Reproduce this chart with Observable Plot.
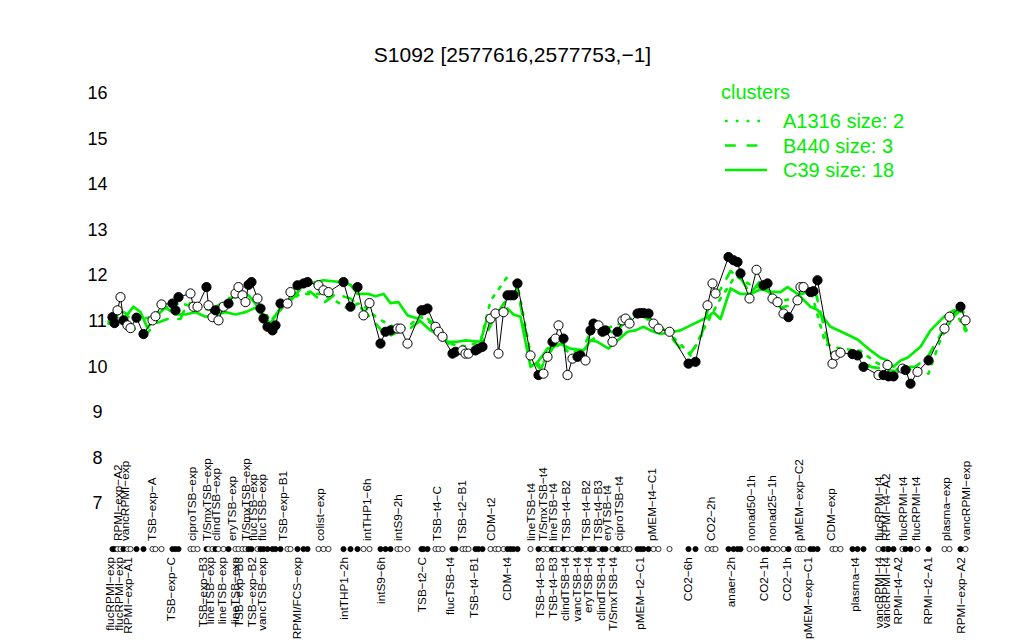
<!DOCTYPE html>
<html><head><meta charset="utf-8">
<script src="https://cdn.jsdelivr.net/npm/d3@7"></script>
<script src="https://cdn.jsdelivr.net/npm/@observablehq/plot@0.6"></script>
<style>
body{margin:0;background:#fff;font-family:"Liberation Sans",Arial,sans-serif;}
#wrap{position:relative;width:1024px;height:640px;}
#legend{position:absolute;left:0;top:0;pointer-events:none;}
</style></head><body><div id="wrap"></div>
<script>
const title = "S1092 [2577616,2577753,\u22121]";
const yTicks = [7,8,9,10,11,12,13,14,15,16];
const stripLevel = 6;

// sample order position, expression value, filled marker flag
const samplePos = [12,14,17,20,23,27,30,36,43,52,55,61,72,75,78,90,93,97,106,108,112,115,118,123,128,135,138,142,145,148,151,157,160,163,167,172,175,180,187,190,197,203,207,218,223,228,243,250,257,263,269,280,285,290,297,300,307,321,323,327,335,338,342,352,355,362,365,368,375,378,382,390,395,398,403,407,410,413,417,430,438,443,447,452,455,458,463,467,472,477,480,485,490,493,498,502,505,512,517,522,525,529,537,540,543,548,553,558,569,588,595,607,612,615,628,633,637,640,649,656,663,667,672,677,683,688,697,700,703,710,713,717,732,735,740,752,757,763,778,783,787,788,793,802,805,810,817,828,844,849,860,865];
const sampleValue = [11.09,10.96,11.24,11.53,11.02,10.91,10.85,11.08,10.72,11.02,11.11,11.37,11.39,11.24,11.53,11.61,11.32,11.32,11.75,11.35,11.09,11.24,11.02,11.32,11.39,11.61,11.75,11.57,11.42,11.80,11.86,11.5,11.28,11.06,10.88,10.8,10.91,11.39,11.39,11.64,11.79,11.83,11.86,11.79,11.68,11.64,11.86,11.32,11.75,11.13,11.40,10.51,10.77,10.8,10.84,10.84,10.51,11.24,11.24,11.28,10.88,10.77,10.66,10.29,10.33,10.36,10.29,10.29,10.36,10.40,10.44,11.06,11.17,10.29,11.2,11.57,11.57,11.57,11.83,10.25,9.82,9.85,10.22,10.55,10.62,10.91,10.62,9.82,10.18,10.22,10.25,10.14,10.8,10.95,10.91,10.77,10.8,10.55,10.77,11.02,11.06,10.95,11.17,11.18,11.18,11.17,10.95,10.84,10.77,10.07,10.11,11.35,11.83,11.61,12.41,12.34,12.30,12.05,11.5,12.13,11.79,11.83,11.5,11.42,11.17,11.09,11.46,11.75,11.75,11.64,11.66,11.9,10.07,10.25,10.31,10.28,10.25,10.0,9.82,9.82,10.04,9.79,9.79,9.96,9.93,9.63,9.89,10.14,10.84,11.1,11.32,11.02];
const sampleFilled = [1,1,0,0,1,0,0,1,1,0,0,0,1,1,1,0,0,0,1,0,0,1,0,0,1,0,0,0,0,1,1,0,1,1,1,1,1,1,0,0,1,1,1,0,0,0,1,1,1,0,0,1,1,1,0,0,0,1,1,1,0,0,0,1,1,0,0,0,1,1,1,0,0,0,0,1,1,1,1,0,1,0,0,1,0,0,1,0,0,1,1,0,1,1,0,1,1,0,1,0,0,0,1,1,1,1,0,0,0,1,1,0,0,0,1,1,1,1,0,0,1,1,0,0,0,1,0,0,0,1,1,1,0,0,0,1,1,1,0,1,0,1,1,0,1,1,0,1,0,0,1,0];

// cluster profiles (position, value)
const clusterAPos = [8,20,35,50,65,80,95,110,125,140,155,170,185,200,220,235,245,260,275,290,305,320,335,350,365,380,390,406,417,430,440,455,470,485,500,520,540,560,580,590,605,620,635,650,665,680,695,710,725,740,760,775,790,805,820,828,840,855,866];
const clusterAValue = [11.0,11.2,11.0,11.1,11.3,11.4,11.3,11.25,11.4,11.6,11.55,11.0,11.4,11.6,11.6,11.45,11.3,11.4,11.1,10.9,10.85,11.1,10.9,10.5,10.45,10.55,11.45,11.95,11.8,10.3,10.0,10.5,10.3,10.4,10.8,10.95,11.15,10.9,10.5,10.25,10.9,11.5,12.0,11.8,11.7,11.45,11.5,11.7,10.5,10.4,10.35,10.1,9.95,9.95,9.95,9.85,10.6,11.2,10.75];
const clusterBPos = [8,18,28,43,55,67,80,87,100,115,127,147,158,168,180,195,210,223,235,250,265,273,287,300,310,325,335,345,355,370,380,392,405,417,430,440,450,460,470,480,490,505,515,525,540,550,565,580,590,600,610,620,630,640,650,660,670,680,690,700,715,730,745,760,770,785,795,805,815,828,840,850,858,866];
const clusterBValue = [10.95,11.1,10.95,10.65,10.95,11.05,11.05,11.4,11.35,11.3,11.5,11.6,11.3,10.95,11.25,11.6,11.65,11.4,11.6,11.5,11.2,11.0,10.65,10.8,10.85,11.1,10.9,10.6,10.35,10.35,10.45,11.0,11.45,11.7,10.2,9.95,10.35,10.6,10.2,10.3,10.75,10.8,10.75,11.0,11.15,11.0,10.8,10.4,10.3,10.6,11.5,11.7,12.1,11.95,11.6,11.9,11.6,11.3,11.35,11.6,11.65,10.3,10.35,10.25,10.0,9.95,9.9,10.0,10.0,10.25,10.7,11.05,11.2,10.8];
const clusterCPos = [8,20,27,33,40,47,55,65,75,85,95,105,115,125,135,145,155,165,170,180,190,203,223,240,250,257,268,275,283,290,298,307,317,330,338,347,357,365,380,387,400,407,413,420,430,437,447,460,470,483,490,497,508,517,527,535,543,550,560,580,590,607,613,620,630,640,650,660,670,680,687,697,710,717,730,743,757,770,780,787,793,800,807,820,830,843,853,863];
const clusterCValue = [10.95,11.24,11.15,11.32,11.2,10.85,11.1,11.3,11.15,11.15,11.2,11.1,11.15,11.2,11.15,11.2,11.3,11.05,10.95,11.3,11.45,11.8,11.9,11.86,11.8,11.6,11.6,11.55,11.6,11.4,11.42,11.13,11.06,10.8,10.7,10.55,10.55,10.58,10.55,11.1,11.2,11.28,11.15,11.1,10.0,10.1,10.4,10.5,10.4,10.36,10.58,10.55,10.4,10.58,10.77,10.8,10.88,10.8,10.72,10.8,10.91,11.09,11.2,11.05,11.72,11.6,11.6,11.7,11.65,11.64,11.75,11.6,11.32,11.25,10.88,10.75,10.6,10.36,10.2,10.14,10.0,10.14,10.2,10.44,10.8,11.09,11.24,11.2];

// sample labels printed above and below the marker strip
const topNames = ["RPMI\u2212exp\u2212A2","vancRPMI\u2212exp","TSB\u2212exp\u2212A","ciproTSB\u2212exp","T/SmxTSB\u2212exp","clindTSB\u2212exp","eryTSB\u2212exp","T/SmxTSB\u2212exp","flucTSB\u2212exp","flucTSB\u2212exp","TSB\u2212exp\u2212B1","colist\u2212exp","intTHP1\u22126h","intS9\u22122h","TSB\u2212t4\u2212C","TSB\u2212t2\u2212B1","CDM\u2212t2","lineTSB\u2212t4","T/SmxTSB\u2212t4","lineTSB\u2212t4","TSB\u2212t4\u2212B2","TSB\u2212t4\u2212B2","TSB\u2212t4\u2212B3","eryTSB\u2212t4","ciproTSB\u2212t4","pMEM\u2212t4\u2212C1","CO2\u22122h","nonad50\u22121h","nonad25\u22121h","pMEM\u2212exp\u2212C2","CDM\u2212exp","flucRPMI\u2212t4","RPMI\u2212t4\u2212A2","flucRPMI\u2212t4","flucRPMI\u2212t4","plasma\u2212exp","vancRPMI\u2212exp"];
const topPos = [18,25,52,92,107,116,132,146,153,162,183,220,267,298,337,362,391,431,443,453,466,486,498,507,519,552,611,651,672,699,731,779,786,803,816,846,866];
const bottomNames = ["flucRPMI\u2212exp","flucRPMI\u2212exp","RPMI\u2212exp\u2212A1","TSB\u2212exp\u2212C","TSB\u2212exp\u2212B3","lineTSB\u2212exp","lineTSB\u2212exp","lineTSB\u2212exp","TSB\u2212exp\u2212B3","TSB\u2212exp\u2212B2","vancTSB\u2212exp","RPMI/FCS\u2212exp","intTHP1\u22122h","intS9\u22126h","TSB\u2212t2\u2212C","flucTSB\u2212t4","TSB\u2212t4\u2212B1","CDM\u2212t4","TSB\u2212t4\u2212B3","TSB\u2212t4\u2212B3","clindTSB\u2212t4","vancTSB\u2212t4","eryTSB\u2212t4","clindTSB\u2212t4","T/SmxTSB\u2212t4","pMEM\u2212t2\u2212C1","CO2\u22126h","anaer\u22122h","CO2\u22121h","CO2\u22121h","pMEM\u2212exp\u2212C1","plasma\u2212t4","vancRPMI\u2212t4","vancRPMI\u2212t4","RPMI\u2212t4\u2212A2","RPMI\u2212t2\u2212A1","RPMI\u2212exp\u2212A2"];
const bottomPos = [10,19,28,71,103,110,122,135,139,152,162,197,244,281,322,350,374,407,440,453,465,477,488,501,513,540,588,631,664,687,708,755,779,786,798,828,861];

const legendTitle = "clusters";
const legendNames = ["A1316 size: 2","B440 size: 3","C39 size: 18"];

const green = "#00ee00";
const dashA = "2.7,8.1", dashB = "10.8,10.8";

const samples = samplePos.map((p,i)=>({pos:p, value:sampleValue[i], fill: sampleFilled[i] ? "black" : "white"}));
const clusterA = clusterAPos.map((p,i)=>({pos:p, value:clusterAValue[i]}));
const clusterB = clusterBPos.map((p,i)=>({pos:p, value:clusterBValue[i]}));
const clusterC = clusterCPos.map((p,i)=>({pos:p, value:clusterCValue[i]}));
const topLabels = topNames.map((n,i)=>({name:n, pos:topPos[i]}));
const bottomLabels = bottomNames.map((n,i)=>({name:n, pos:bottomPos[i]}));

const font = "Liberation Sans, Arial, sans-serif";
const plot = Plot.plot({
  width:1024, height:640,
  marginTop:93, marginBottom:137, marginLeft:100, marginRight:54,
  x:{domain:[0,870], axis:null},
  y:{domain:[7,16], axis:null},
  color:{type:"identity"},
  style:{fontFamily:font, background:"white", color:"black", overflow:"visible"},
  marks:[
    Plot.axisY({ticks:yTicks, label:null, tickSize:0, tickPadding:3, textAnchor:"middle", fontSize:18, tickFormat:d=>String(d)}),
    Plot.line(clusterA, {x:"pos", y:"value", stroke:green, strokeWidth:2.7, strokeDasharray:dashA}),
    Plot.line(clusterB, {x:"pos", y:"value", stroke:green, strokeWidth:2.7, strokeDasharray:dashB}),
    Plot.line(clusterC, {x:"pos", y:"value", stroke:green, strokeWidth:2.7}),
    Plot.line(samples, {x:"pos", y:"value", stroke:"black", strokeWidth:1}),
    Plot.dot(samples, {x:"pos", y:"value", r:4.6, fill:"fill", stroke:"black", strokeWidth:1}),
    Plot.dot(samples, {x:"pos", y:()=>stripLevel, r:2.6, fill:"fill", stroke:"black", strokeWidth:0.8}),
    Plot.text(topLabels, {x:"pos", y:()=>stripLevel, text:"name", rotate:-90, textAnchor:"start", dy:-8, fontSize:11.8, fill:"black"}),
    Plot.text(bottomLabels, {x:"pos", y:()=>stripLevel, text:"name", rotate:-90, textAnchor:"end", dy:8, fontSize:11.8, fill:"black"}),
    Plot.text([title], {frameAnchor:"top", text:d=>d, dy:-46, dx:-23, fontSize:21, fill:"black"})
  ]
});
const wrap = document.getElementById("wrap");
wrap.appendChild(plot);

// legend overlay
const leg = d3.select(wrap).append("svg").attr("id","legend").attr("width",1024).attr("height",640)
  .style("font-family", font);
leg.append("text").attr("x",721).attr("y",92).attr("dy","0.35em").attr("font-size",20).attr("fill",green).text(legendTitle);
const dashes = [dashA, dashB, null];
legendNames.forEach((n,i)=>{
  const y = 121 + i*24.5;
  const ln = leg.append("line").attr("x1",725).attr("x2",767).attr("y1",y).attr("y2",y)
    .attr("stroke",green).attr("stroke-width",2.7);
  if (dashes[i]) ln.attr("stroke-dasharray",dashes[i]);
  leg.append("text").attr("x",783).attr("y",y).attr("dy","0.35em").attr("font-size",20).attr("fill",green).text(n);
});
</script></body></html>
